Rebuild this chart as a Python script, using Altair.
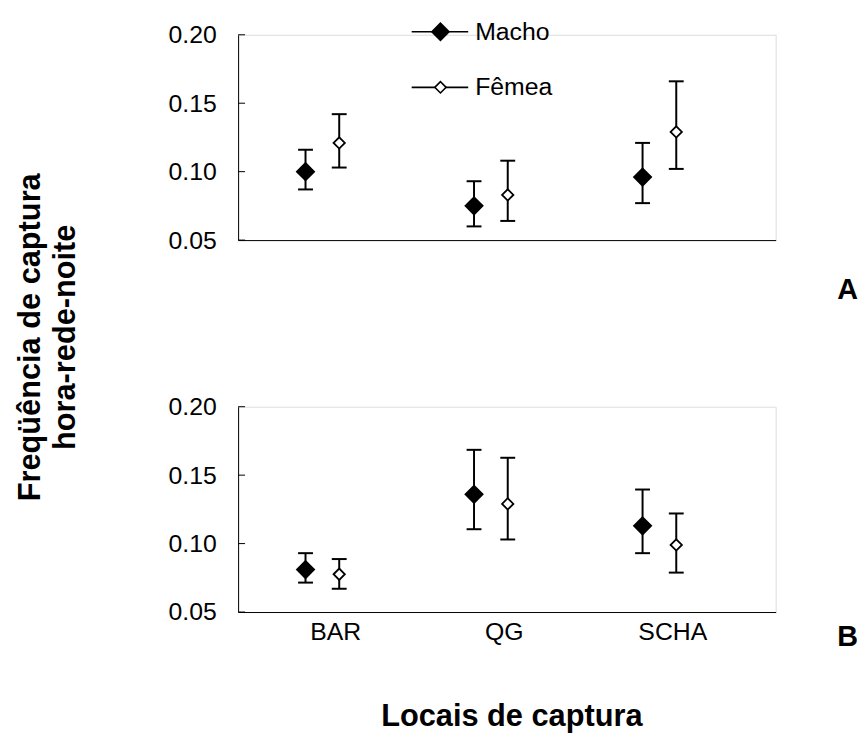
import altair as alt
import pandas as pd

FONT = "Liberation Sans"

sites = ["BAR", "QG", "SCHA"]
series = ["Macho", "Fêmea"]
y_ticks = [0.05, 0.10, 0.15, 0.20]

# Panel A
a_macho_mean = [0.100, 0.075, 0.096]
a_macho_low = [0.087, 0.060, 0.077]
a_macho_high = [0.116, 0.093, 0.121]
a_femea_mean = [0.121, 0.083, 0.129]
a_femea_low = [0.103, 0.064, 0.102]
a_femea_high = [0.142, 0.108, 0.166]

# Panel B
b_macho_mean = [0.081, 0.136, 0.113]
b_macho_low = [0.0715, 0.1105, 0.093]
b_macho_high = [0.093, 0.1685, 0.1395]
b_femea_mean = [0.0776, 0.129, 0.099]
b_femea_low = [0.067, 0.103, 0.0788]
b_femea_high = [0.0887, 0.1627, 0.122]


def make_df(mm, ml, mh, fm, fl, fh):
    rows = []
    for i, s in enumerate(sites):
        rows.append({"site": s, "i": i + 1, "sex": series[0], "mean": mm[i], "low": ml[i], "high": mh[i]})
        rows.append({"site": s, "i": i + 1, "sex": series[1], "mean": fm[i], "low": fl[i], "high": fh[i]})
    return pd.DataFrame(rows)


df_a = make_df(a_macho_mean, a_macho_low, a_macho_high, a_femea_mean, a_femea_low, a_femea_high)
df_b = make_df(b_macho_mean, b_macho_low, b_macho_high, b_femea_mean, b_femea_low, b_femea_high)

W, H = 542, 207
xscale = alt.Scale(domain=[0.5, 3.69], nice=False, zero=False)
yscale = alt.Scale(domain=[0.05, 0.20], nice=False, zero=False)
fill_scale = alt.Scale(domain=series, range=["black", "white"])
size_scale = alt.Scale(domain=series, range=[300, 130])

label_expr = "[" + ",".join("'%s'" % s for s in sites) + "][datum.value - 1]"

yaxis = alt.Axis(values=y_ticks, format=".2f", title=None, grid=False, ticks=False, tickSize=0,
                 labelPadding=22, labelFontSize=25, labelFont=FONT, labelColor="black",
                 domainColor="black", domainWidth=1)


def panel(df, show_labels, extra):
    if show_labels:
        xaxis = alt.Axis(values=[1, 2, 3], labelExpr=label_expr, title=None, grid=False, ticks=False,
                         tickSize=0, labelPadding=8, labelOffset=13, labelFontSize=25, labelFont=FONT,
                         labelColor="black", domainColor="black", domainWidth=1)
    else:
        xaxis = alt.Axis(labels=False, ticks=False, tickSize=0, title=None, grid=False,
                         domainColor="black", domainWidth=1)
    base = alt.Chart(df).transform_calculate(
        pos="datum.i + (datum.sex == '%s' ? -0.1 : 0.1)" % series[0]
    )
    x = alt.X("pos:Q", scale=xscale, axis=xaxis)
    bars = base.mark_rule(color="black", strokeWidth=2).encode(
        x=x, y=alt.Y("low:Q", scale=yscale, axis=yaxis), y2="high:Q")
    cap_lo = base.mark_point(shape="M-1,0L1,0", size=225, stroke="black", strokeWidth=2,
                             filled=False, opacity=1).encode(x=x, y=alt.Y("low:Q", scale=yscale))
    cap_hi = base.mark_point(shape="M-1,0L1,0", size=225, stroke="black", strokeWidth=2,
                             filled=False, opacity=1).encode(x=x, y=alt.Y("high:Q", scale=yscale))
    pts = base.mark_point(shape="diamond", filled=True, stroke="black", strokeWidth=1.8, opacity=1).encode(
        x=x, y=alt.Y("mean:Q", scale=yscale),
        fill=alt.Fill("sex:N", scale=fill_scale, legend=None),
        size=alt.Size("sex:N", scale=size_scale, legend=None))
    ticks = alt.Chart(pd.DataFrame({"v": y_ticks})).mark_rule(color="black", strokeWidth=1).encode(
        y=alt.Y("v:Q", scale=yscale), x=alt.value(0), x2=alt.value(7))
    return alt.layer(bars, cap_lo, cap_hi, pts, ticks, *extra).properties(width=W, height=H)


one = pd.DataFrame({"k": [0]})
leg_df = pd.DataFrame({"sex": series})
legend_layers = []
for s, yv in zip(series, [-3, 53]):
    sub = alt.Chart(leg_df).transform_filter("datum.sex == '%s'" % s)
    legend_layers.append(sub.mark_rule(color="black", strokeWidth=1.6).encode(
        x=alt.value(175), x2=alt.value(232), y=alt.value(yv)))
    legend_layers.append(sub.mark_point(shape="diamond", filled=True, stroke="black", strokeWidth=1.6,
                                        opacity=1).encode(
        x=alt.value(204), y=alt.value(yv),
        fill=alt.Fill("sex:N", scale=fill_scale, legend=None),
        size=alt.Size("sex:N", scale=size_scale, legend=None)))
    legend_layers.append(sub.mark_text(align="left", baseline="middle", fontSize=25, font=FONT,
                                       color="black").encode(
        x=alt.value(239), y=alt.value(yv), text="sex:N"))

ytitle1 = alt.Chart(one).mark_text(text="Freqüência de captura", angle=270, fontSize=31, fontWeight="bold",
                                   font=FONT, align="center", baseline="alphabetic", color="black").encode(
    x=alt.value(-200), y=alt.value(305))
ytitle2 = alt.Chart(one).mark_text(text="hora-rede-noite", angle=270, fontSize=31, fontWeight="bold",
                                   font=FONT, align="center", baseline="alphabetic", color="black").encode(
    x=alt.value(-164), y=alt.value(305))
lab_a = alt.Chart(one).mark_text(text="A", fontSize=29, fontWeight="bold", font=FONT, align="left",
                                 baseline="alphabetic", color="black").encode(x=alt.value(604), y=alt.value(266))
lab_b = alt.Chart(one).mark_text(text="B", fontSize=29, fontWeight="bold", font=FONT, align="left",
                                 baseline="alphabetic", color="black").encode(x=alt.value(604), y=alt.value(241))
xtitle = alt.Chart(one).mark_text(text="Locais de captura", fontSize=31, fontWeight="bold", font=FONT,
                                  align="center", baseline="alphabetic", color="black").encode(
    x=alt.value(276), y=alt.value(322))

panel_a = panel(df_a, False, legend_layers + [ytitle1, ytitle2, lab_a])
panel_b = panel(df_b, True, [lab_b, xtitle])

chart = alt.vconcat(panel_a, panel_b, spacing=168, bounds="flush").properties(
    padding={"left": 6, "top": 8, "right": 0, "bottom": 0}
).configure_view(stroke=None).configure(background="white")

chart.save("out.html", embed_options={"renderer": "svg", "actions": False})
